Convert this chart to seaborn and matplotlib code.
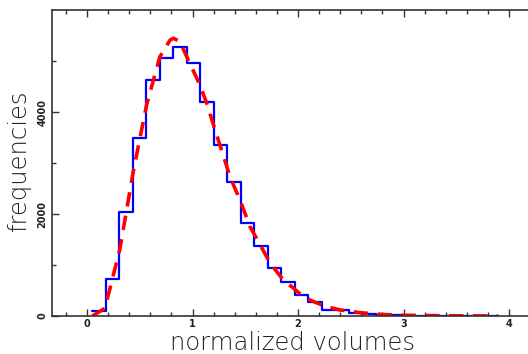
import numpy as np
import pandas as pd
import matplotlib
matplotlib.use("Agg")
import matplotlib.pyplot as plt
import seaborn as sns
from matplotlib.ticker import MultipleLocator, FixedLocator

# ---- data ----
bin_start = 0.05
bin_width = 0.128
hist_counts = [98, 720, 2039, 3496, 4627, 5052, 5268, 4954, 4202, 3353,
               2621, 1824, 1366, 935, 667, 418, 280, 118, 112, 50,
               42, 15, 10, 6, 5, 3, 2, 2, 1, 1]
fit_x = [0.05, 0.17, 0.31, 0.44, 0.566, 0.63, 0.69, 0.787, 0.82, 0.88,
         0.945, 1.07, 1.135, 1.213, 1.29, 1.355, 1.45, 1.545, 1.64, 1.735,
         1.86, 1.94, 2.05, 2.15, 2.27, 2.40, 2.59, 2.8, 3.0, 3.3, 3.6, 3.9]
fit_y = [0, 150, 1300, 2850, 4150, 4630, 5080, 5410, 5445, 5380,
         5085, 4530, 4170, 3650, 3160, 2730, 2275, 1750, 1400, 1040,
         706, 575, 378, 280, 183, 118, 65, 30, 15, 7, 3, 1]
y_ticks = [0, 2000, 4000]
x_label = "normalized volumes"
y_label = "frequencies"

edges = [bin_start + bin_width * k for k in range(len(hist_counts) + 1)]
centers = [(edges[i] + edges[i + 1]) / 2 for i in range(len(hist_counts))]
hist_df = pd.DataFrame({"volume": centers, "count": hist_counts})
fit_df = pd.DataFrame({"volume": fit_x, "freq": fit_y})

sns.set_style("white")
plt.rcParams["font.family"] = ["DejaVu Sans"]

fig = plt.figure(figsize=(5.28, 3.54), dpi=100)
ax = fig.add_axes([52 / 528, 1 - 316 / 354, 476 / 528, 306 / 354])

sns.histplot(data=hist_df, x="volume", weights="count", bins=edges,
             element="step", fill=False, color="#0000ff", linewidth=1.6, ax=ax)
sns.lineplot(data=fit_df, x="volume", y="freq", color="#ff0000",
             linewidth=2.6, ax=ax)
ax.lines[-1].set_dashes([4, 2.6])

ax.set_xlim(-0.332, 4.18)
ax.set_ylim(0, 6000)

ax.xaxis.set_major_locator(MultipleLocator(1))
ax.xaxis.set_minor_locator(MultipleLocator(0.2))
ax.yaxis.set_major_locator(FixedLocator(y_ticks))
ax.yaxis.set_minor_locator(FixedLocator([1000, 3000, 5000]))
ax.tick_params(axis="both", which="both", direction="in", colors="#333333",
               labelcolor="#222222", labelsize=7, width=1)
ax.tick_params(axis="x", which="both", top=True, bottom=True, pad=2.5)
ax.tick_params(axis="y", which="both", left=True, right=False)
ax.tick_params(which="major", length=5)
ax.tick_params(which="minor", length=3)
for lbl in ax.get_yticklabels():
    lbl.set_rotation(90)
    lbl.set_va("center")
    lbl.set_fontweight("bold")
for lbl in ax.get_xticklabels():
    lbl.set_fontweight("bold")

for side in ["left", "top", "bottom"]:
    ax.spines[side].set_color("#333333")
    ax.spines[side].set_linewidth(1.2)
ax.spines["right"].set_visible(False)

ax.set_xlabel(x_label, fontsize=17.5, fontweight="light", color="#222222")
ax.set_ylabel(y_label, fontsize=17.5, fontweight="light", color="#222222")
ax.xaxis.set_label_coords(0.506, -0.05)
ax.yaxis.set_label_coords(-0.044, 0.51)

fig.savefig("out.png", dpi=100)
